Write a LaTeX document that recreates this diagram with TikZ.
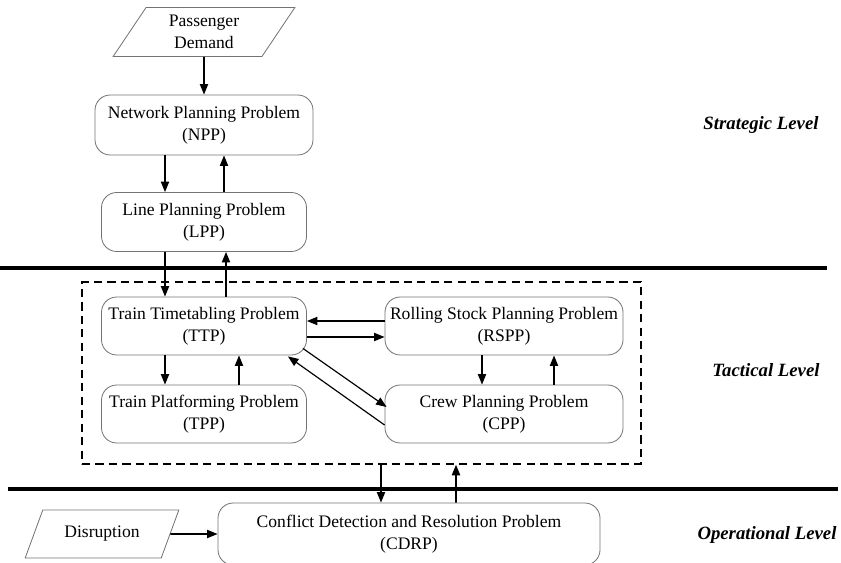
\documentclass[tikz,border=0pt]{standalone}
\usepackage{fontspec}
\setmainfont{Liberation Serif}
\usetikzlibrary{arrows.meta,shapes.geometric}

\tikzset{
  problem/.style={draw=black!55, line width=0.7pt, rounded corners=13pt, align=center,
    minimum height=1.74cm, font=\fontsize{15}{19}\selectfont},
  inputdata/.style={draw=black!55, line width=0.7pt, trapezium, trapezium left angle=62,
    trapezium right angle=118, trapezium stretches=true, align=center,
    font=\fontsize{15}{19}\selectfont},
  flow/.style={line width=1.3pt, -{Triangle[length=9pt,width=7pt]}},
  levelline/.style={line width=2.8pt},
  levelname/.style={font=\fontsize{16}{19}\selectfont\bfseries\itshape},
  tacframe/.style={draw, dash pattern=on 7pt off 4.5pt, line width=1.2pt,
    minimum width=16.77cm, minimum height=5.46cm}
}

\begin{document}
\begin{tikzpicture}[x=0.03cm,y=-0.03cm]
			%%%%% START %%%%%
			\useasboundingbox (0,0) rectangle (841,563);
			
			\draw[levelline] (0,268) -- (827,268);
			\draw[levelline] (8,489) -- (838,489);
			
			\node[levelname] (strat) at (761,125) {Strategic Level};
			\node[levelname] (tact) at (766,370) {Tactical Level};
			\node[levelname] (oper) at (767,535) {Operational Level};
			
			% strategic
			\node[inputdata, minimum width=5.46cm, minimum height=1.47cm] (demand) at (204,32) {Passenger\\Demand};
			\node[problem, minimum width=6.54cm, minimum height=1.8cm] (npp) at (204,125) {Network Planning Problem\\(NPP)};
			\node[problem, minimum width=6.15cm, minimum height=1.77cm] (lpp) at (204,222) {Line Planning Problem\\(LPP)};
			
			% tactical
			\node[tacframe] (tac) at (361.5,373) {};
			\node[problem, minimum width=6.15cm] (ttp) at (204,326) {Train Timetabling Problem\\(TTP)};
			\node[problem, minimum width=7.14cm] (rspp) at (504,326) {Rolling Stock Planning Problem\\(RSPP)};
			\node[problem, minimum width=6.15cm] (tpp) at (204,414) {Train Platforming Problem\\(TPP)};
			\node[problem, minimum width=7.14cm] (cpp) at (504,414) {Crew Planning Problem\\(CPP)};
			
			% operational
			\node[inputdata, minimum width=4.65cm, minimum height=1.44cm] (disr) at (102,534) {Disruption};
			\node[problem, minimum width=11.46cm, minimum height=1.86cm] (cdrp) at (409,534) {Conflict Detection and Resolution Problem\\(CDRP)};
			
			\draw[flow] (demand.south) -- (npp.north);
			\draw[flow] ([xshift=-1.17cm]npp.south) -- ([xshift=-1.17cm]lpp.north);
			\draw[flow] ([xshift=0.6cm]lpp.north) -- ([xshift=0.6cm]npp.south);
			\draw[flow] ([xshift=-1.17cm]lpp.south) -- ([xshift=-1.17cm]ttp.north);
			\draw[flow] ([xshift=0.66cm]ttp.north) -- ([xshift=0.66cm]lpp.south);
			
			\draw[flow] ([xshift=-1.17cm]ttp.south) -- ([xshift=-1.17cm]tpp.north);
			\draw[flow] ([xshift=1.05cm]tpp.north) -- ([xshift=1.05cm]ttp.south);
			\draw[flow] ([xshift=-0.66cm]rspp.south) -- ([xshift=-0.66cm]cpp.north);
			\draw[flow] ([xshift=1.5cm]cpp.north) -- ([xshift=1.5cm]rspp.south);
			\draw[flow] ([yshift=0.15cm]rspp.west) -- ([yshift=0.15cm]ttp.east);
			\draw[flow] ([yshift=-0.33cm]ttp.east) -- ([yshift=-0.33cm]rspp.west);
			\draw[flow, line width=1pt] ([shift={(-4,-7)}]ttp.south east) -- ([shift={(2,-7)}]cpp.west);
			\draw[flow, line width=1pt] ([shift={(0,11)}]cpp.west) -- ([shift={(-19,1)}]ttp.south east);
			
			\draw[flow] ([xshift=0.585cm]tac.south) -- ([xshift=-0.84cm]cdrp.north);
			\draw[flow] ([xshift=1.41cm]cdrp.north) -- ([xshift=2.835cm]tac.south);
			\draw[flow] (disr) -- (cdrp);
			
			%%%%% END %%%%%
\end{tikzpicture}
\end{document}
